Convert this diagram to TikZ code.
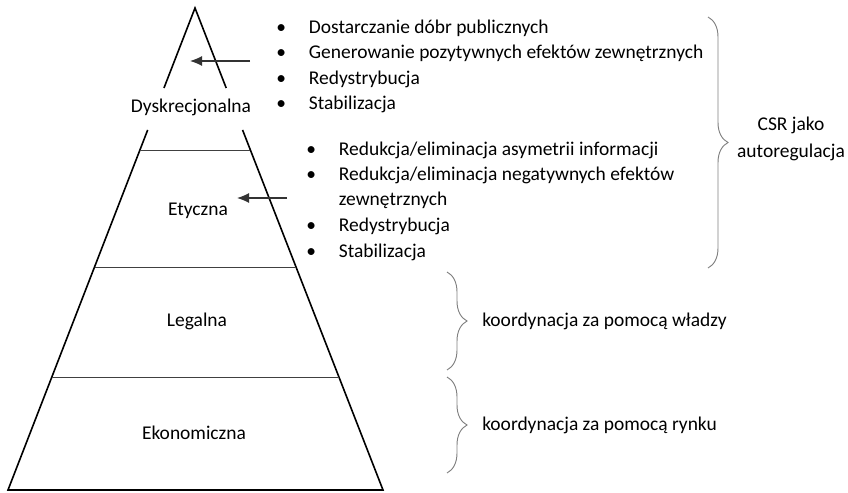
\documentclass[tikz,border=0pt]{standalone}
\usepackage{fontspec}
\setmainfont{Carlito}
\usepackage{tikz}
\usetikzlibrary{calc,arrows.meta,decorations.pathreplacing}

\newcommand{\blt}{\makebox[24.5pt][l]{\textbullet}}

\begin{document}
\begin{tikzpicture}[
    x=0.75pt, y=-0.75pt,
    side/.style={line width=1.2pt},
    layer/.style={line width=0.7pt, black!75},
    lbl/.style={font=\fontsize{14.6}{20}\selectfont, inner sep=0pt},
    item/.style={lbl, anchor=mid west},
    pointer/.style={-{Latex[length=9pt,width=7.5pt]}, line width=0.9pt, black!80},
    cbrace/.style={decorate, decoration={brace, amplitude=15pt}, black!50, line width=0.7pt}
]
\useasboundingbox (0,0) rectangle (848,492);
% pyramid
\coordinate (apex) at (195,8);
\coordinate (bl) at (8,490);
\coordinate (br) at (383,490);
\draw[side] ($(apex)!0.166!(bl)$) -- (apex) -- ($(apex)!0.166!(br)$);
\draw[side] ($(apex)!0.253!(bl)$) -- (bl) -- (br) -- ($(apex)!0.253!(br)$);
\foreach \t in {0.2946,0.5373,0.7656}
  \draw[layer] ($(apex)!\t!(bl)$) -- ($(apex)!\t!(br)$);
\node[lbl, anchor=mid] (dys) at (191,109) {Dyskrecjonalna};
\node[lbl, anchor=mid] (ety) at (198,212) {Etyczna};
\node[lbl, anchor=mid] (leg) at (197,323) {Legalna};
\node[lbl, anchor=mid] (eko) at (194,436) {Ekonomiczna};
% arrows into the layers
\coordinate (p1) at (190,61);
\coordinate (q1) at (250,61);
\coordinate (p2) at (237,198);
\coordinate (q2) at (287,198);
\draw[pointer] (q1) -- (p1);
\draw[pointer] (q2) -- (p2);
% lists
\foreach \txt [count=\i] in {Dostarczanie dóbr publicznych, Generowanie pozytywnych efektów zewnętrznych, Redystrybucja, Stabilizacja}
  \node[item] (d\i) at (276,{4.8+25.4*\i}) {\blt\txt};
\node[item] (e1) at (306,152) {\blt Redukcja/eliminacja asymetrii informacji};
\node[item] (e2) at (306,177) {\blt Redukcja/eliminacja negatywnych efektów};
\node[item] (e3) at (306,202) {\hspace*{24.5pt}zewnętrznych};
\node[item] (e4) at (306,228) {\blt Redystrybucja};
\node[item] (e5) at (306,254) {\blt Stabilizacja};
% braces
\coordinate (b1t) at (708,17);
\coordinate (b1b) at (708,268);
\coordinate (b2t) at (447,272);
\coordinate (b2b) at (447,370);
\coordinate (b3t) at (447,377);
\coordinate (b3b) at (447,473);
\draw[cbrace] (b1t) -- (b1b);
\draw[cbrace] (b2t) -- (b2b);
\draw[cbrace] (b3t) -- (b3b);
\node[lbl, align=center] (csr) at (791,139) {CSR jako\\autoregulacja};
\node[item] (wla) at (482,323) {koordynacja za pomocą władzy};
\node[item] (ryn) at (482,427) {koordynacja za pomocą rynku};
\end{tikzpicture}
\end{document}
